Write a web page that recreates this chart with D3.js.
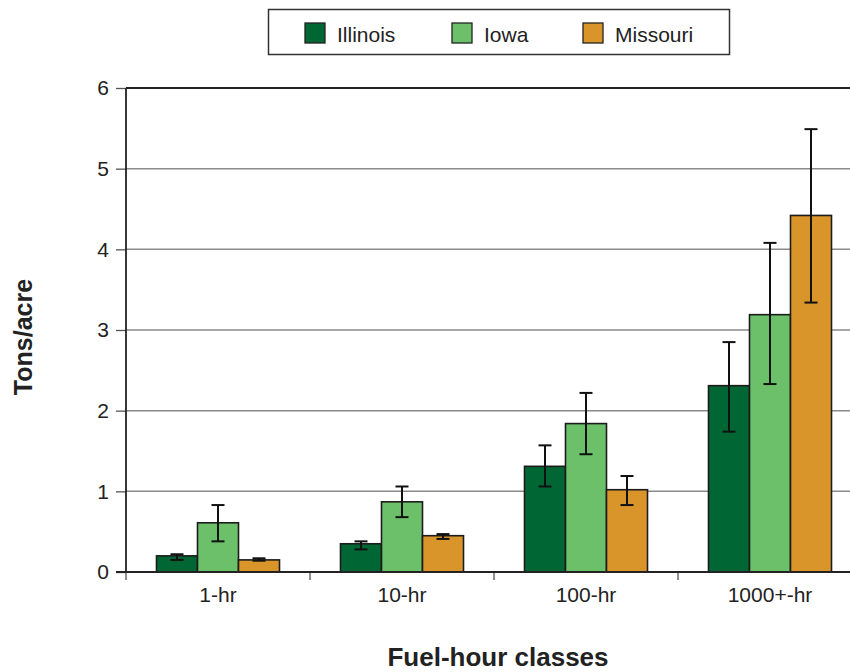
<!DOCTYPE html>
<html>
<head>
<meta charset="utf-8">
<script src="https://cdn.jsdelivr.net/npm/d3@7"></script>
<style>
  body { margin: 0; background: #fff; }
  svg { display: block; font-family: "Liberation Sans", Arial, Helvetica, sans-serif; }
</style>
</head>
<body>
<svg id="chart" width="850" height="672"></svg>
<script>
const categories = ["1-hr", "10-hr", "100-hr", "1000+-hr"];
const seriesNames = ["Illinois", "Iowa", "Missouri"];
const seriesColors = ["#006633", "#6cc06a", "#da952a"];
const illinoisValues = [0.20, 0.35, 1.31, 2.31];
const iowaValues = [0.61, 0.87, 1.84, 3.19];
const missouriValues = [0.15, 0.45, 1.02, 4.42];
const illinoisLow = [0.15, 0.28, 1.06, 1.74];
const illinoisHigh = [0.22, 0.38, 1.57, 2.85];
const iowaLow = [0.38, 0.68, 1.46, 2.33];
const iowaHigh = [0.83, 1.06, 2.22, 4.08];
const missouriLow = [0.14, 0.41, 0.83, 3.34];
const missouriHigh = [0.17, 0.47, 1.19, 5.49];
const yTicks = [0, 1, 2, 3, 4, 5, 6];
const xTitle = "Fuel-hour classes";
const yTitle = "Tons/acre";

const values = [illinoisValues, iowaValues, missouriValues];
const lows = [illinoisLow, iowaLow, missouriLow];
const highs = [illinoisHigh, iowaHigh, missouriHigh];

const rows = [];
categories.forEach((c, ci) => {
  seriesNames.forEach((s, si) => {
    rows.push({cat: c, series: s, si: si, value: values[si][ci], low: lows[si][ci], high: highs[si][ci]});
  });
});

const svg = d3.select("#chart");
const pLeft = 126, pRight = 862, pTop = 88, pBottom = 572;

const x0 = d3.scaleBand().domain(categories).range([pLeft, pRight]).padding(0);
const x1 = d3.scaleBand().domain(seriesNames).range([0, x0.bandwidth()]).paddingInner(0).paddingOuter(0.744);
const y = d3.scaleLinear().domain([0, 6]).range([pBottom, pTop]);
const color = d3.scaleOrdinal().domain(seriesNames).range(seriesColors);

// gridlines
svg.append("g").selectAll("line").data(yTicks.filter(t => t > 0 && t < 6)).join("line")
  .attr("x1", pLeft).attr("x2", 850)
  .attr("y1", d => y(d)).attr("y2", d => y(d))
  .attr("stroke", "#8a8a8a").attr("stroke-width", 1.5);

// top border
svg.append("line").attr("x1", pLeft).attr("x2", 850).attr("y1", y(6)).attr("y2", y(6))
  .attr("stroke", "#222").attr("stroke-width", 1.8);

// y axis
const yAxis = d3.axisLeft(y).tickValues(yTicks).tickSize(10).tickPadding(7).tickFormat(d3.format("d"));
const gy = svg.append("g").attr("transform", `translate(${pLeft},0)`).call(yAxis);
gy.select(".domain").remove();
gy.selectAll(".tick line").attr("stroke", "#555").attr("stroke-width", 1.3);
gy.selectAll(".tick text").attr("font-size", 21).attr("fill", "#222")
  .attr("font-family", "Liberation Sans, Arial, sans-serif");
svg.append("line").attr("x1", pLeft).attr("x2", pLeft).attr("y1", y(6)).attr("y2", pBottom)
  .attr("stroke", "#222").attr("stroke-width", 1.8);

// bars
const bars = svg.append("g");
bars.selectAll("rect").data(rows).join("rect")
  .attr("x", d => x0(d.cat) + x1(d.series))
  .attr("y", d => y(d.value))
  .attr("width", x1.bandwidth())
  .attr("height", d => y(0) - y(d.value))
  .attr("fill", d => color(d.series))
  .attr("stroke", "#1c1c1c").attr("stroke-width", 1.6);

// error bars
const eb = svg.append("g").attr("stroke", "#111").attr("stroke-width", 2);
const cx = d => x0(d.cat) + x1(d.series) + x1.bandwidth() / 2;
eb.selectAll("line.v").data(rows).join("line").attr("class", "v")
  .attr("x1", cx).attr("x2", cx).attr("y1", d => y(d.low)).attr("y2", d => y(d.high));
eb.selectAll("line.t").data(rows).join("line").attr("class", "t")
  .attr("x1", d => cx(d) - 6.5).attr("x2", d => cx(d) + 6.5).attr("y1", d => y(d.high)).attr("y2", d => y(d.high));
eb.selectAll("line.b").data(rows).join("line").attr("class", "b")
  .attr("x1", d => cx(d) - 6.5).attr("x2", d => cx(d) + 6.5).attr("y1", d => y(d.low)).attr("y2", d => y(d.low));

// x axis
const xTickPos = d3.range(categories.length + 1).map(i => pLeft + i * x0.bandwidth());
svg.append("g").selectAll("line").data(xTickPos.filter(p => p < 850)).join("line")
  .attr("x1", d => d).attr("x2", d => d).attr("y1", pBottom).attr("y2", pBottom + 8)
  .attr("stroke", "#555").attr("stroke-width", 1.3);
svg.append("line").attr("x1", pLeft - 10).attr("x2", 850).attr("y1", pBottom).attr("y2", pBottom)
  .attr("stroke", "#222").attr("stroke-width", 1.8);
svg.append("g").selectAll("text").data(categories).join("text")
  .attr("x", d => x0(d) + x0.bandwidth() / 2).attr("y", 602)
  .attr("text-anchor", "middle").attr("font-size", 21).attr("fill", "#222")
  .text(d => d);

// titles
svg.append("text").attr("x", 498).attr("y", 666).attr("text-anchor", "middle")
  .attr("font-size", 26).attr("font-weight", "bold").attr("fill", "#222").text(xTitle);
svg.append("text").attr("transform", "translate(32,337) rotate(-90)").attr("text-anchor", "middle")
  .attr("font-size", 25).attr("font-weight", "bold").attr("fill", "#222").text(yTitle);

// legend
const lg = svg.append("g");
lg.append("rect").attr("x", 268.5).attr("y", 9.5).attr("width", 461).attr("height", 45)
  .attr("fill", "#fff").attr("stroke", "#333").attr("stroke-width", 1.5);
const legX = [305, 452, 583];
const items = lg.selectAll("g.item").data(seriesNames).join("g").attr("class", "item")
  .attr("transform", (d, i) => `translate(${legX[i]},23)`);
items.append("rect").attr("width", 20).attr("height", 20)
  .attr("fill", d => color(d)).attr("stroke", "#222").attr("stroke-width", 1.3);
items.append("text").attr("x", 32).attr("y", 18.5).attr("font-size", 21).attr("fill", "#222").text(d => d);
</script>
</body>
</html>
